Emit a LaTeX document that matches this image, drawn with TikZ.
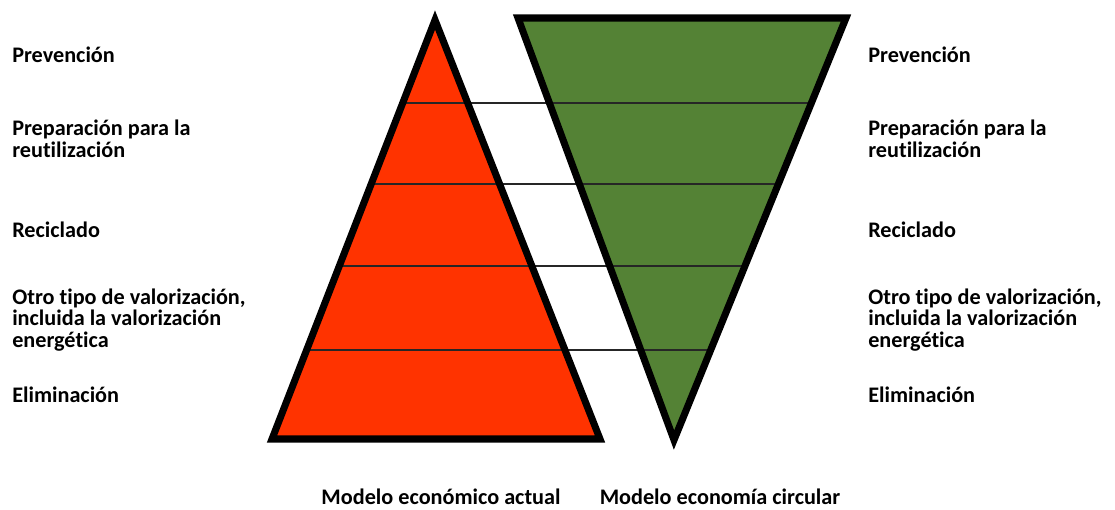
\documentclass[tikz,border=0pt]{standalone}
\usepackage{fontspec}
\setmainfont[Ligatures=NoCommon]{Carlito}
\usetikzlibrary{calc}
\definecolor{redlevel}{HTML}{FF3300}
\definecolor{greenlevel}{HTML}{548235}

\begin{document}
\begin{tikzpicture}[x=0.025cm,y=-0.025cm, every node/.style={font=\bfseries\fontsize{15.8}{15}\selectfont, inner sep=0pt, align=left},
  outline/.style={line width=5pt, line join=miter}]
  \useasboundingbox (0,0) rectangle (1115,509);
  % corners of the two pyramids
  \coordinate (rtop) at (435,20);
  \coordinate (rbl) at (272,439);
  \coordinate (rbr) at (600,439);
  \coordinate (gtl) at (518,18);
  \coordinate (gtr) at (846,18);
  \coordinate (gtip) at (674,440);
  \fill[redlevel] (rtop) -- (rbl) -- (rbr) -- cycle;
  \fill[greenlevel] (gtl) -- (gtr) -- (gtip) -- cycle;
  \foreach \y in {103,184,266,350}{
    \draw[line width=1.3pt, black!85] (intersection of rtop--rbl and 0,\y--1115,\y)
      -- (intersection of gtr--gtip and 0,\y--1115,\y);
  }
  \draw[outline] (rtop) -- (rbl) -- (rbr) -- cycle;
  \draw[outline] (gtl) -- (gtr) -- (gtip) -- cycle;
  % level labels on both sides (base = last line)
  \foreach \y/\txt in {62/Prevención, 157/{Preparación para la\\reutilización}, 237/Reciclado,
      347/{Otro tipo de valorización,\\incluida la valorización\\energética}, 402/Eliminación}{
    \node[anchor=base west] (left-\y) at (12,\y) {\txt};
    \node[anchor=base west] (right-\y) at (868,\y) {\txt};
  }
  \node[anchor=base] (actual) at (441,504) {Modelo económico actual};
  \node[anchor=base] (circular) at (720,504) {Modelo economía circular};
\end{tikzpicture}
\end{document}
